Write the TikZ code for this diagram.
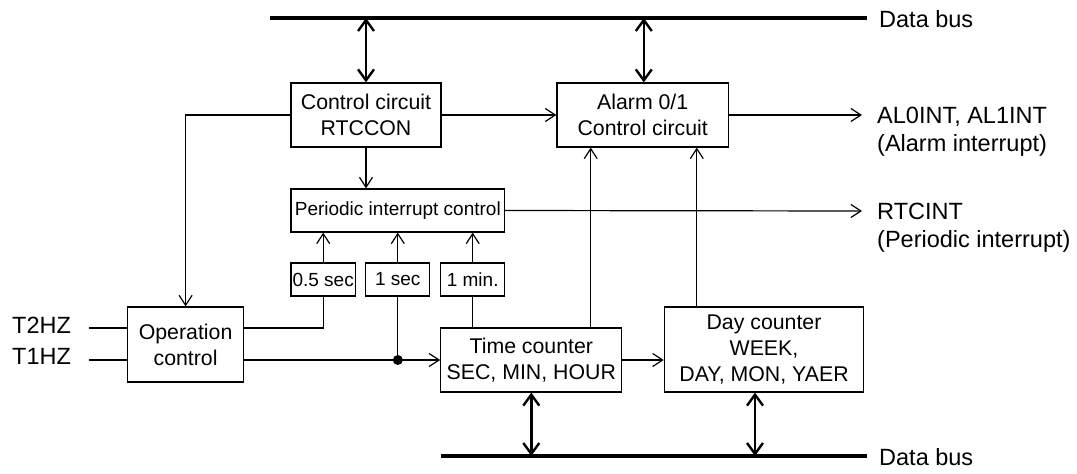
\documentclass[tikz,border=0pt]{standalone}
\usepackage{fontspec}
\setmainfont{Liberation Sans}
\usetikzlibrary{arrows.meta,calc}
\begin{document}
\begin{tikzpicture}[x=1pt,y=-1pt,
  box/.style={draw,line width=1.2pt,inner sep=0pt,align=center,font=\fontsize{21.3}{26}\selectfont},
  sbox/.style={draw,line width=1.2pt,inner sep=0pt,align=center,font=\fontsize{19}{22}\selectfont},
  lbl/.style={inner sep=0pt,align=left,font=\fontsize{23.5}{28}\selectfont},
  wire/.style={line width=1.2pt},
  sig/.style={line width=1.2pt,-{Straight Barb[length=10pt,width=13pt,line width=1.2pt]}},
  bus/.style={line width=4pt},
  dbl/.style={line width=2.4pt,{Straight Barb[length=11pt,width=16pt,line width=2.4pt]}-{Straight Barb[length=11pt,width=16pt,line width=2.4pt]}}]
\useasboundingbox (0,0) rectangle (1077,474);
% buses
\coordinate (bt1) at (269.6,18);
\coordinate (bt2) at (867,18);
\coordinate (bb1) at (440.8,456);
\coordinate (bb2) at (867,456);
\draw[bus] (bt1) -- (bt2);
\draw[bus] (bb1) -- (bb2);
\node[lbl,anchor=west] (dbt) at (879,19) {Data bus};
\node[lbl,anchor=west] (dbb) at (879,457) {Data bus};
% boxes
\node[box,minimum width=150pt,minimum height=64pt] (cc) at (366,115) {Control circuit\\RTCCON};
\node[box,minimum width=171.4pt,minimum height=64pt] (al) at (642.7,115) {Alarm 0/1\\Control circuit};
\node[sbox,minimum width=213.5pt,minimum height=43pt] (pic) at (397.8,210.5) {Periodic interrupt control};
\node[sbox,minimum width=64.4pt,minimum height=33pt] (s05) at (323.2,279.5) {0.5 sec};
\node[sbox,minimum width=64pt,minimum height=33pt] (s1) at (397.8,279.5) {1 sec};
\node[sbox,minimum width=63.7pt,minimum height=33pt] (s1m) at (472.7,279.5) {1 min.};
\node[box,minimum width=116.4pt,minimum height=75pt] (op) at (185.6,344.5) {Operation\\control};
\node[box,minimum width=181pt,minimum height=64pt] (tc) at (531.3,360) {Time counter\\SEC, MIN, HOUR};
\node[box,minimum width=199.3pt,minimum height=85pt] (dc) at (764,349.5) {Day counter\\WEEK,\\DAY, MON, YAER};
% labels
\node[lbl,anchor=north west] (alo) at (877,107) {AL0INT, AL1INT\\(Alarm interrupt)};
\node[lbl,anchor=north west] (rto) at (877,203) {RTCINT\\(Periodic interrupt)};
\node[lbl,anchor=west] (t2l) at (12,325) {T2HZ};
\node[lbl,anchor=west] (t1l) at (12,356) {T1HZ};
% coordinates
\coordinate (t2) at (88.5,328);
\coordinate (t1) at (88.5,360);
\coordinate (aend) at (862,115);
\coordinate (rend) at (862,211);
\coordinate (xa) at (590.7,0);
\coordinate (xd) at (696.8,0);
\coordinate (xbt) at (531.3,0);
\coordinate (xbd) at (755,0);
\coordinate (xal) at (643.8,0);
% bus arrows
\draw[dbl] (cc.north) -- (cc.north |- bt1);
\draw[dbl] (al.north -| xal) -- (xal |- bt1);
\draw[dbl] (tc.south -| xbt) -- (xbt |- bb1);
\draw[dbl] (dc.south -| xbd) -- (xbd |- bb1);
% signals
\draw[sig] (cc.east) -- (al.west);
\draw[sig] (al.east) -- (aend);
\draw[sig] (pic.east) -- (rend);
\draw[sig] (cc.south) -- (cc.south |- pic.north);
\draw[sig] (cc.west) -| (op.north);
\draw[wire] (t2) -- (t2 -| op.west);
\draw[wire] (t1) -- (t1 -| op.west);
\draw[wire] (op.east |- t2) -| (s05.south);
\draw[sig] (op.east |- t1) -- (tc.west);
\coordinate (dot) at (s1.south |- t1);
\fill (dot) circle (5pt);
\draw[wire] (dot) -- (s1.south);
\draw[wire] (s1m.south) -- (s1m.south |- tc.north);
\draw[sig] (s05.north) -- (s05.north |- pic.south);
\draw[sig] (s1.north) -- (s1.north |- pic.south);
\draw[sig] (s1m.north) -- (s1m.north |- pic.south);
\draw[sig] (tc.north -| xa) -- (xa |- al.south);
\draw[sig] (dc.north -| xd) -- (xd |- al.south);
\draw[sig] (tc.east) -- (tc.east -| dc.west);
\end{tikzpicture}
\end{document}
